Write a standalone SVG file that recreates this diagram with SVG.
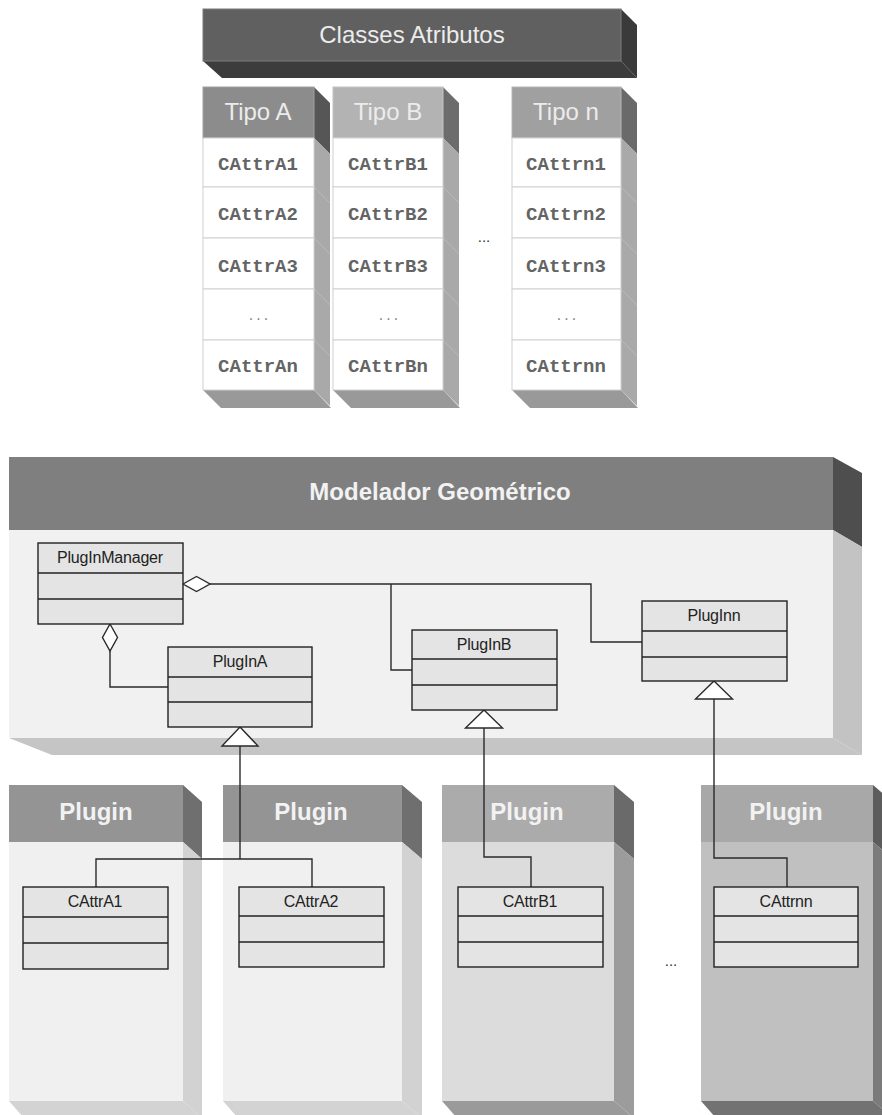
<svg xmlns="http://www.w3.org/2000/svg" width="882" height="1115" viewBox="0 0 882 1115">
  <style>
    .hdr { font-family: "Liberation Sans", Arial, sans-serif; font-size: 24px; fill: #ececec; text-anchor: middle; }
    .hdrb { font-family: "Liberation Sans", Arial, sans-serif; font-size: 24px; font-weight: bold; fill: #f2f2f2; text-anchor: middle; }
    .mono { font-family: "Liberation Mono", "Courier New", monospace; font-size: 19px; font-weight: bold; fill: #646464; text-anchor: middle; }
    .dots { font-family: "Liberation Sans", Arial, sans-serif; font-size: 16px; fill: #888888; text-anchor: middle; letter-spacing: 3px; }
    .cls rect { fill: #e4e4e4; stroke: #222222; stroke-width: 1.4; }
    .cls line { stroke: #222222; stroke-width: 1.4; }
    .cname { font-family: "Liberation Sans", Arial, sans-serif; font-size: 16px; fill: #222222; text-anchor: middle; letter-spacing: -0.2px; }
    .row { fill: #ffffff; stroke: #d0d0d0; stroke-width: 1; }
    .wire { fill: none; stroke: #2a2a2a; stroke-width: 1.4; }
    .head { fill: #ffffff; stroke: #2a2a2a; stroke-width: 1.4; }
    .ell { font-family: "Liberation Sans", Arial, sans-serif; font-size: 15px; fill: #333333; text-anchor: middle; }
  </style>

  <!-- Attribute classes banner -->
  <g id="classes-atributos">
    <polygon points="621,9 637,25 637,78 621,61" fill="#3a3a3a"/>
    <polygon points="203,61 621,61 637,78 222,78" fill="#3c3c3c"/>
    <rect x="203" y="9" width="418" height="52" fill="#606060" stroke="#7a7a7a" stroke-width="1"/>
    <text class="hdr" x="412" y="43">Classes Atributos</text>
  </g>

  <!-- Tipo A column -->
  <g id="tipo-a">
    <polygon points="314,87 330,103 330,154 314,138" fill="#565656"/>
    <polygon points="314,138 330,154 330,406 314,390" fill="#a9a9a9"/>
    <polygon points="203,390 314,390 331,408 221,408" fill="#999999"/>
    <g stroke="#bcbcbc" stroke-width="0.8">
      <line x1="314" y1="187" x2="330" y2="203"/><line x1="314" y1="238" x2="330" y2="254"/>
      <line x1="314" y1="289" x2="330" y2="305"/><line x1="314" y1="340" x2="330" y2="356"/>
    </g>
    <rect x="203" y="87" width="111" height="51" fill="#8c8c8c" stroke="#a0a0a0" stroke-width="1"/>
    <text class="hdr" x="258" y="120">Tipo A</text>
    <rect class="row" x="203" y="138" width="111" height="49"/>
    <rect class="row" x="203" y="187" width="111" height="51"/>
    <rect class="row" x="203" y="238" width="111" height="51"/>
    <rect class="row" x="203" y="289" width="111" height="51"/>
    <rect class="row" x="203" y="340" width="111" height="50"/>
    <text class="mono" x="258" y="170">CAttrA1</text>
    <text class="mono" x="258" y="220">CAttrA2</text>
    <text class="mono" x="258" y="272">CAttrA3</text>
    <text class="dots" x="260" y="320">...</text>
    <text class="mono" x="258" y="372">CAttrAn</text>
  </g>

  <!-- Tipo B column -->
  <g id="tipo-b">
    <polygon points="443,87 459,103 459,154 443,138" fill="#6c6c6c"/>
    <polygon points="443,138 459,154 459,406 443,390" fill="#a9a9a9"/>
    <polygon points="333,390 443,390 460,408 351,408" fill="#999999"/>
    <g stroke="#bcbcbc" stroke-width="0.8">
      <line x1="443" y1="187" x2="459" y2="203"/><line x1="443" y1="238" x2="459" y2="254"/>
      <line x1="443" y1="289" x2="459" y2="305"/><line x1="443" y1="340" x2="459" y2="356"/>
    </g>
    <rect x="333" y="87" width="110" height="51" fill="#b3b3b3" stroke="#c4c4c4" stroke-width="1"/>
    <text class="hdr" x="388" y="120">Tipo B</text>
    <rect class="row" x="333" y="138" width="110" height="49"/>
    <rect class="row" x="333" y="187" width="110" height="51"/>
    <rect class="row" x="333" y="238" width="110" height="51"/>
    <rect class="row" x="333" y="289" width="110" height="51"/>
    <rect class="row" x="333" y="340" width="110" height="50"/>
    <text class="mono" x="388" y="170">CAttrB1</text>
    <text class="mono" x="388" y="220">CAttrB2</text>
    <text class="mono" x="388" y="272">CAttrB3</text>
    <text class="dots" x="390" y="320">...</text>
    <text class="mono" x="388" y="372">CAttrBn</text>
  </g>

  <text class="ell" x="484" y="242">...</text>

  <!-- Tipo n column -->
  <g id="tipo-n">
    <polygon points="621,87 637,103 637,154 621,138" fill="#6a6a6a"/>
    <polygon points="621,138 637,154 637,406 621,390" fill="#a9a9a9"/>
    <polygon points="512,390 621,390 638,408 530,408" fill="#999999"/>
    <g stroke="#bcbcbc" stroke-width="0.8">
      <line x1="621" y1="187" x2="637" y2="203"/><line x1="621" y1="238" x2="637" y2="254"/>
      <line x1="621" y1="289" x2="637" y2="305"/><line x1="621" y1="340" x2="637" y2="356"/>
    </g>
    <rect x="512" y="87" width="109" height="51" fill="#a0a0a0" stroke="#b4b4b4" stroke-width="1"/>
    <text class="hdr" x="566" y="120">Tipo n</text>
    <rect class="row" x="512" y="138" width="109" height="49"/>
    <rect class="row" x="512" y="187" width="109" height="51"/>
    <rect class="row" x="512" y="238" width="109" height="51"/>
    <rect class="row" x="512" y="289" width="109" height="51"/>
    <rect class="row" x="512" y="340" width="109" height="50"/>
    <text class="mono" x="566" y="170">CAttrn1</text>
    <text class="mono" x="566" y="220">CAttrn2</text>
    <text class="mono" x="566" y="272">CAttrn3</text>
    <text class="dots" x="568" y="320">...</text>
    <text class="mono" x="566" y="372">CAttrnn</text>
  </g>

  <!-- Geometric modeller container -->
  <g id="modelador">
    <polygon points="833,457 862,473 862,547 833,530" fill="#4e4e4e"/>
    <polygon points="833,530 862,547 862,755 833,738" fill="#c3c3c3"/>
    <polygon points="9,738 833,738 862,755 52,755" fill="#c5c5c5"/>
    <rect x="9" y="457" width="824" height="73" fill="#7f7f7f"/>
    <rect x="9" y="530" width="824" height="208" fill="#f1f1f1"/>
    <text class="hdrb" x="440" y="500">Modelador Geométrico</text>
  </g>

  <!-- Plugin containers -->
  <g id="plugin-1">
    <polygon points="183,785 202,802 202,859 183,842" fill="#6f6f6f"/>
    <polygon points="183,842 202,859 202,1118 183,1101" fill="#d2d2d2"/>
    <polygon points="9,1101 183,1101 202,1118 24,1118" fill="#d3d3d3"/>
    <rect x="9" y="785" width="174" height="57" fill="#949494"/>
    <rect x="9" y="842" width="174" height="259" fill="#f0f0f0"/>
    <text class="hdrb" x="96" y="820">Plugin</text>
  </g>
  <g id="plugin-2">
    <polygon points="402,785 422,802 422,859 402,842" fill="#6f6f6f"/>
    <polygon points="402,842 422,859 422,1118 402,1101" fill="#d2d2d2"/>
    <polygon points="223,1101 402,1101 422,1118 238,1118" fill="#d3d3d3"/>
    <rect x="223" y="785" width="179" height="57" fill="#949494"/>
    <rect x="223" y="842" width="179" height="259" fill="#f0f0f0"/>
    <text class="hdrb" x="311" y="820">Plugin</text>
  </g>
  <g id="plugin-3">
    <polygon points="614,785 634,802 634,859 614,842" fill="#6a6a6a"/>
    <polygon points="614,842 634,859 634,1118 614,1101" fill="#9c9c9c"/>
    <polygon points="442,1101 614,1101 634,1118 457,1118" fill="#9a9a9a"/>
    <rect x="442" y="785" width="172" height="57" fill="#ababab"/>
    <rect x="442" y="842" width="172" height="259" fill="#dcdcdc"/>
    <text class="hdrb" x="527" y="820">Plugin</text>
  </g>
  <g id="plugin-4">
    <polygon points="873,785 893,802 893,859 873,842" fill="#5c5c5c"/>
    <polygon points="873,842 893,859 893,1118 873,1101" fill="#7b7b7b"/>
    <polygon points="701,1101 873,1101 893,1118 716,1118" fill="#727272"/>
    <rect x="701" y="785" width="172" height="57" fill="#a8a8a8"/>
    <rect x="701" y="842" width="172" height="259" fill="#c0c0c0"/>
    <text class="hdrb" x="786" y="820">Plugin</text>
  </g>

  <text class="ell" x="671" y="966">...</text>

  <!-- Connectors -->
  <g id="connectors">
    <!-- aggregation from PlugInManager -->
    <polyline class="wire" points="210,584 591,584 591,642 642,642"/>
    <polyline class="wire" points="391,584 391,670 412,670"/>
    <polygon class="head" points="183,584 196.5,576.5 210,584 196.5,591.5"/>
    <polyline class="wire" points="110,651 110,687 168,687"/>
    <polygon class="head" points="110,624 117.5,637.5 110,651 102.5,637.5"/>
    <!-- generalization to PlugInA -->
    <polyline class="wire" points="240,746 240,859"/>
    <polyline class="wire" points="96,887 96,859 312,859 312,887"/>
    <polygon class="head" points="240,727 258,746 222,746"/>
    <!-- generalization to PlugInB -->
    <polyline class="wire" points="484,728 484,857 531,857 531,887"/>
    <polygon class="head" points="484,710 502.5,728 465.5,728"/>
    <!-- generalization to PlugInn -->
    <polyline class="wire" points="714,699 714,858 787,858 787,887"/>
    <polygon class="head" points="714,681 732.5,699 695.5,699"/>
  </g>

  <!-- UML classes -->
  <g id="pluginmanager" class="cls">
    <rect x="38" y="543" width="145" height="81"/>
    <line x1="38" y1="573" x2="183" y2="573"/>
    <line x1="38" y1="599" x2="183" y2="599"/>
    <text class="cname" x="110" y="563">PlugInManager</text>
  </g>
  <g id="pluginA" class="cls">
    <rect x="168" y="647" width="144" height="80"/>
    <line x1="168" y1="677" x2="312" y2="677"/>
    <line x1="168" y1="702" x2="312" y2="702"/>
    <text class="cname" x="240" y="667">PlugInA</text>
  </g>
  <g id="pluginB" class="cls">
    <rect x="412" y="630" width="145" height="80"/>
    <line x1="412" y1="659" x2="557" y2="659"/>
    <line x1="412" y1="685" x2="557" y2="685"/>
    <text class="cname" x="484" y="650">PlugInB</text>
  </g>
  <g id="pluginn" class="cls">
    <rect x="642" y="601" width="145" height="80"/>
    <line x1="642" y1="631" x2="787" y2="631"/>
    <line x1="642" y1="657" x2="787" y2="657"/>
    <text class="cname" x="714" y="621">PlugInn</text>
  </g>
  <g id="cattrA1" class="cls">
    <rect x="23" y="887" width="145" height="82"/>
    <line x1="23" y1="917" x2="168" y2="917"/>
    <line x1="23" y1="943" x2="168" y2="943"/>
    <text class="cname" x="95" y="907">CAttrA1</text>
  </g>
  <g id="cattrA2" class="cls">
    <rect x="239" y="887" width="145" height="80"/>
    <line x1="239" y1="916" x2="384" y2="916"/>
    <line x1="239" y1="942" x2="384" y2="942"/>
    <text class="cname" x="311" y="907">CAttrA2</text>
  </g>
  <g id="cattrB1" class="cls">
    <rect x="458" y="887" width="145" height="80"/>
    <line x1="458" y1="916" x2="603" y2="916"/>
    <line x1="458" y1="942" x2="603" y2="942"/>
    <text class="cname" x="530" y="907">CAttrB1</text>
  </g>
  <g id="cattrnn" class="cls">
    <rect x="714" y="887" width="144" height="80"/>
    <line x1="714" y1="916" x2="858" y2="916"/>
    <line x1="714" y1="942" x2="858" y2="942"/>
    <text class="cname" x="786" y="907">CAttrnn</text>
  </g>
</svg>
